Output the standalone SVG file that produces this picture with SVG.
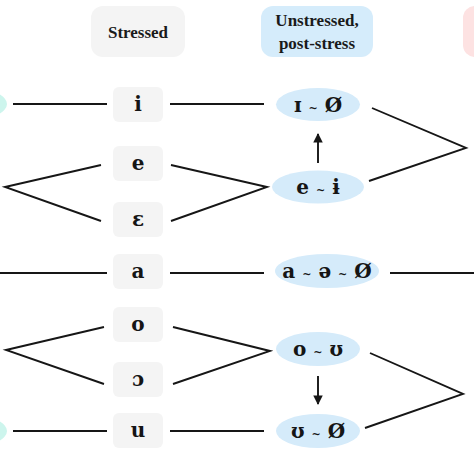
<svg xmlns="http://www.w3.org/2000/svg" width="474" height="474" viewBox="0 0 474 474">
<defs>
<style>
.box{fill:#f4f4f4}
.ell{fill:#d5ebfa}
.hdr{font-family:"Liberation Serif","DejaVu Serif",serif;font-weight:bold;font-size:17px;fill:#1a1a1a;text-anchor:middle}
.lt{font-family:"DejaVu Serif","Liberation Serif",serif;font-weight:bold;font-size:20px;fill:#151515;text-anchor:middle}
.tl{font-size:11px}
.ln{stroke:#161616;stroke-width:1.9;fill:none}
</style>
<marker id="ah" viewBox="0 0 10 10" refX="9" refY="5" markerWidth="5" markerHeight="5" orient="auto">
<path d="M0,0 L10,5 L0,10 z" fill="#161616"/>
</marker>
</defs>
<rect width="474" height="474" fill="#ffffff"/>

<g id="header-stressed"><rect class="box" x="91" y="6" width="94" height="51" rx="12"/><text class="hdr" x="138" y="38">Stressed</text></g>
<g id="header-unstressed"><rect x="261" y="6" width="112" height="51" rx="12" fill="#d5ecfb"/><text class="hdr" x="317" y="25.5">Unstressed,</text><text class="hdr" x="317" y="49">post-stress</text></g>
<g id="header-right"><rect x="463" y="6" width="40" height="51" rx="12" fill="#fde2e2"/></g>

<g id="left-i"><ellipse cx="-28" cy="104" rx="35" ry="16" fill="#cdf5ed"/></g>
<g id="left-u"><ellipse cx="-28" cy="431" rx="35" ry="16" fill="#cdf5ed"/></g>

<g id="connectors">
<line class="ln" x1="13" y1="104" x2="107" y2="104"/>
<line class="ln" x1="170" y1="104" x2="264" y2="104"/>
<polyline class="ln" points="101,165 5,187 101,221"/>
<polyline class="ln" points="171,165 267,187 171,221"/>
<polyline class="ln" points="372,108 466,148 369,181"/>
<line class="ln" x1="318" y1="163" x2="318" y2="134" marker-end="url(#ah)"/>
<line class="ln" x1="0" y1="273" x2="107" y2="273"/>
<line class="ln" x1="170" y1="273" x2="264" y2="273"/>
<line class="ln" x1="390" y1="273" x2="474" y2="273"/>
<polyline class="ln" points="104,327 6,350 104,384"/>
<polyline class="ln" points="173,327 270,351 173,384"/>
<polyline class="ln" points="370,353 463,394 365,428"/>
<line class="ln" x1="318" y1="376" x2="318" y2="404" marker-end="url(#ah)"/>
<line class="ln" x1="13" y1="431" x2="107" y2="431"/>
<line class="ln" x1="170" y1="431" x2="264" y2="431"/>
</g>

<g id="s-i"><rect class="box" x="113" y="87" width="50" height="35" rx="6"/><text class="lt" x="138" y="111">i</text></g>
<g id="s-e"><rect class="box" x="113" y="146" width="50" height="35" rx="6"/><text class="lt" x="138" y="170">e</text></g>
<g id="s-eps"><rect class="box" x="113" y="202" width="50" height="35" rx="6"/><text class="lt" x="138" y="226">ɛ</text></g>
<g id="s-a"><rect class="box" x="113" y="254" width="50" height="35" rx="6"/><text class="lt" x="138" y="278">a</text></g>
<g id="s-o"><rect class="box" x="113" y="307" width="50" height="35" rx="6"/><text class="lt" x="138" y="331">o</text></g>
<g id="s-oo"><rect class="box" x="113" y="362" width="50" height="35" rx="6"/><text class="lt" x="138" y="386">ɔ</text></g>
<g id="s-u"><rect class="box" x="113" y="413" width="50" height="35" rx="6"/><text class="lt" x="138" y="437">u</text></g>

<g id="u-I"><ellipse class="ell" cx="318" cy="104.5" rx="42" ry="16.5"/><text class="lt" x="318" y="112">ɪ <tspan class="tl">~</tspan> Ø</text></g>
<g id="u-e"><ellipse class="ell" cx="318" cy="187" rx="46" ry="16.5"/><text class="lt" x="318" y="194">e <tspan class="tl">~</tspan> ɨ</text></g>
<g id="u-a"><ellipse class="ell" cx="327" cy="271" rx="52" ry="17"/><text class="lt" x="327" y="278">a <tspan class="tl">~</tspan> ə <tspan class="tl">~</tspan> Ø</text></g>
<g id="u-o"><ellipse class="ell" cx="318" cy="349" rx="42" ry="17"/><text class="lt" x="318" y="356">o <tspan class="tl">~</tspan> ʊ</text></g>
<g id="u-U"><ellipse class="ell" cx="318" cy="431" rx="42" ry="17"/><text class="lt" x="318" y="438">ʊ <tspan class="tl">~</tspan> Ø</text></g>
</svg>
